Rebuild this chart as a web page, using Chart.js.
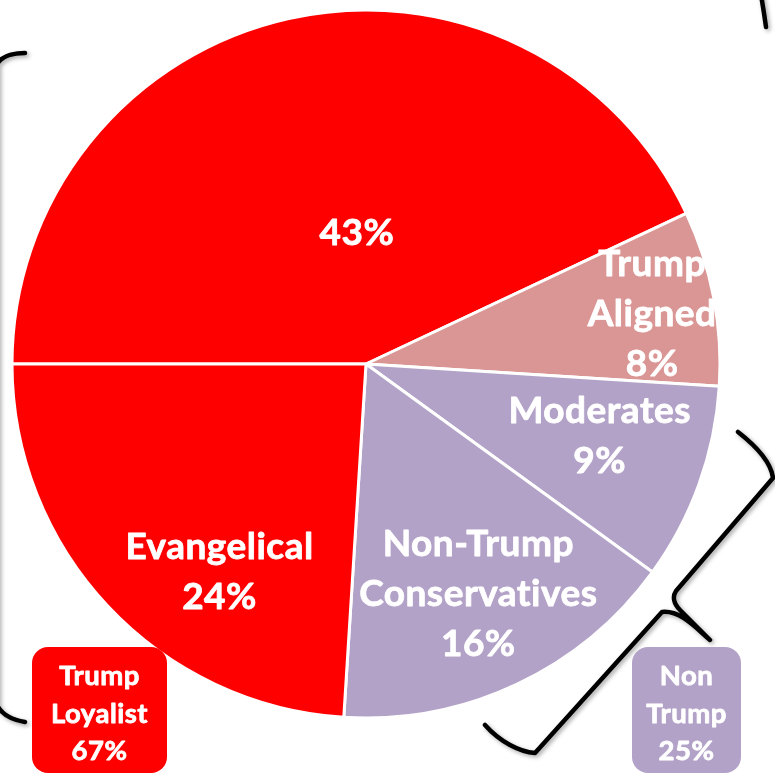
<!DOCTYPE html>
<html><head><meta charset="utf-8">
<script src="https://cdn.jsdelivr.net/npm/chart.js@4.4.1/dist/chart.umd.min.js"></script>
<style>html,body{margin:0;padding:0;background:#fff;overflow:hidden}#wrap{width:775px;height:774px;position:relative}canvas{display:block}</style>
</head><body><div id="wrap"><canvas id="c" width="775" height="774"></canvas></div>
<script>
// ---- data ----
const categories = ['', 'Trump\nAligned', 'Moderates', 'Non-Trump\nConservatives', 'Evangelical'];
const shares = [43, 8, 9, 16, 24];
const groupNames = ['Trump\nLoyalist', 'Non\nTrump'];
const groupShares = [67, 25];

// ---- styles / layout ----
const sliceColors = ['#FF0000', '#D99694', '#B3A2C7', '#B3A2C7', '#FF0000'];
const groupColors = ['#FF0000', '#B3A2C7'];
// label anchor per slice: [angle in degrees (clockwise from 3 o'clock), fraction of radius]
const labelSpots = [[-93.9, 0.375], [-10.1, 0.821], [16.9, 0.690], [63.9, 0.721], [125.3, 0.716]];
const groupBoxes = [{x: 32, y: 647, w: 135, h: 126}, {x: 632, y: 647, w: 109, h: 126}];
const FONT = 'Lato, "Open Sans", sans-serif';

function drawLines(ctx, lines, cx, cy, size, gap) {
  ctx.save();
  ctx.font = 'bold ' + size + 'px ' + FONT;
  ctx.fillStyle = '#FFFFFF';
  ctx.strokeStyle = '#FFFFFF';
  ctx.lineWidth = 0.8;
  ctx.lineJoin = 'round';
  ctx.textAlign = 'center';
  ctx.textBaseline = 'alphabetic';
  if ('letterSpacing' in ctx) ctx.letterSpacing = '0.5px';
  const capH = ctx.measureText('H').actualBoundingBoxAscent;
  const n = lines.length;
  lines.forEach((t, i) => {
    const capCenter = cy + (i - (n - 1) / 2) * gap;
    ctx.fillText(t, cx, capCenter + capH / 2);
    ctx.strokeText(t, cx, capCenter + capH / 2);
  });
  ctx.restore();
}

function drawBraces(ctx) {
  ctx.save();
  ctx.strokeStyle = '#000000';
  ctx.lineWidth = 4.5;
  ctx.lineCap = 'round';
  ctx.lineJoin = 'round';
  ctx.shadowColor = 'rgba(0,0,0,0.35)';
  ctx.shadowBlur = 4;
  ctx.shadowOffsetX = 2;
  ctx.shadowOffsetY = 2;
  // left bracket
  ctx.beginPath();
  ctx.moveTo(25, 53);
  ctx.bezierCurveTo(12, 53, 2, 56, -3, 64);
  ctx.lineTo(-3, 705);
  ctx.bezierCurveTo(2, 715, 12, 720, 25, 722);
  ctx.stroke();
  // top-right fragment
  ctx.beginPath();
  ctx.moveTo(761, -5);
  ctx.quadraticCurveTo(764, 12, 766, 27);
  ctx.stroke();
  // right curly brace
  ctx.beginPath();
  ctx.moveTo(738, 432);
  ctx.bezierCurveTo(756, 446, 771, 462, 773, 478);
  ctx.lineTo(676, 591);
  ctx.bezierCurveTo(672, 597, 674, 604, 680, 610);
  ctx.lineTo(710, 640);
  ctx.bezierCurveTo(695, 627, 680, 610, 662, 612);
  ctx.lineTo(535, 753);
  ctx.bezierCurveTo(520, 752, 500, 742, 485, 725);
  ctx.stroke();
  ctx.restore();
}

const labelPlugin = {
  id: 'sliceLabels',
  afterDatasetsDraw(chart) {
    const ctx = chart.ctx;
    const meta = chart.getDatasetMeta(0);
    meta.data.forEach((arc, i) => {
      const a = labelSpots[i][0] * Math.PI / 180;
      const r = arc.outerRadius * labelSpots[i][1];
      const cx = arc.x + Math.cos(a) * r;
      const cy = arc.y + Math.sin(a) * r;
      const lines = (categories[i] ? categories[i].split('\n') : []).concat([shares[i] + '%']);
      drawLines(ctx, lines, cx, cy, 37, 50);
    });
  },
  afterDraw(chart) {
    const ctx = chart.ctx;
    drawBraces(ctx);
    groupBoxes.forEach((b, i) => {
      ctx.save();
      ctx.fillStyle = groupColors[i];
      ctx.beginPath();
      ctx.roundRect(b.x, b.y, b.w, b.h, 16);
      ctx.fill();
      ctx.restore();
      const lines = groupNames[i].split('\n').concat([groupShares[i] + '%']);
      drawLines(ctx, lines, b.x + b.w / 2, b.y + 66, 27.5, 37.5);
    });
  }
};

new Chart(document.getElementById('c'), {
  type: 'pie',
  data: {
    labels: categories,
    datasets: [{
      data: shares,
      backgroundColor: sliceColors,
      borderColor: '#FFFFFF',
      borderWidth: 3
    }]
  },
  options: {
    responsive: false,
    animation: false,
    rotation: 270,
    radius: 354,
    layout: {padding: {left: 0, right: 43, top: 0, bottom: 46}},
    plugins: {legend: {display: false}, tooltip: {enabled: false}}
  },
  plugins: [labelPlugin]
});
</script>
</body></html>
